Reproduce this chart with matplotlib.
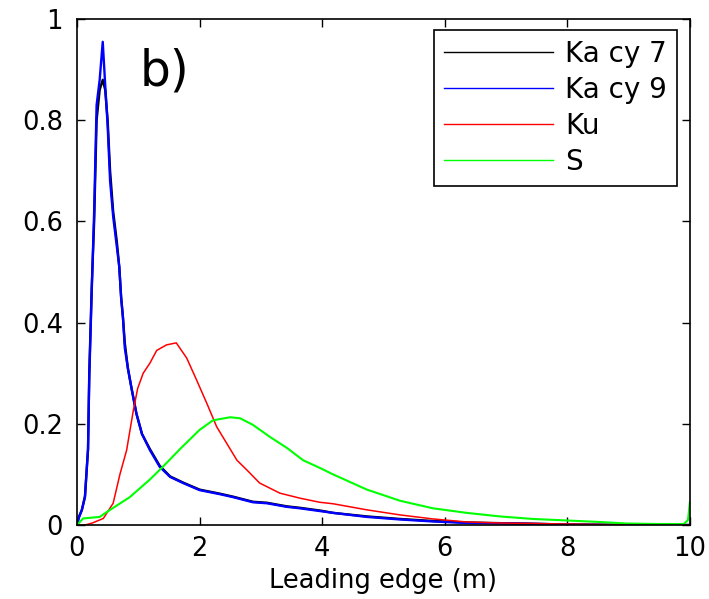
import matplotlib
matplotlib.use("Agg")
import matplotlib.pyplot as plt

plt.rcParams['font.family'] = ['DejaVu Sans']

# Ka cy 7 (black) - mostly hidden under Ka cy 9
ka7_x = [0, 0.03, 0.08, 0.13, 0.18, 0.2, 0.24, 0.28, 0.32, 0.37, 0.42, 0.46, 0.5, 0.54, 0.59, 0.65,
         0.69, 0.72, 0.75, 0.78, 0.83, 0.89, 0.97, 1.06, 1.19, 1.35, 1.52, 1.73, 2.0, 2.33, 2.55, 2.87,
         3.1, 3.42, 3.64, 4.0, 4.18, 4.73, 5.27, 5.81, 6.36, 7.2, 7.6, 8.0, 9.0, 10.0]
ka7_y = [0, 0.016, 0.03, 0.057, 0.15, 0.3, 0.47, 0.6, 0.8, 0.86, 0.88, 0.86, 0.8, 0.7, 0.62, 0.56,
         0.51, 0.45, 0.41, 0.36, 0.31, 0.27, 0.22, 0.18, 0.15, 0.117, 0.096, 0.084, 0.07, 0.062, 0.056, 0.046,
         0.044, 0.037, 0.034, 0.028, 0.024, 0.017, 0.012, 0.008, 0.005, 0.003, 0.002, 0.001, 0, 0]

# Ka cy 9 (blue)
ka9_x = [0, 0.03, 0.08, 0.13, 0.18, 0.2, 0.24, 0.28, 0.32, 0.37, 0.42, 0.46, 0.5, 0.54, 0.59, 0.65,
         0.69, 0.72, 0.75, 0.78, 0.83, 0.89, 0.97, 1.06, 1.19, 1.35, 1.52, 1.73, 2.0, 2.33, 2.55, 2.87,
         3.1, 3.42, 3.64, 4.0, 4.18, 4.73, 5.27, 5.81, 6.36, 7.2, 7.6, 8.0, 9.0, 10.0]
ka9_y = [0, 0.014, 0.03, 0.055, 0.15, 0.29, 0.46, 0.62, 0.83, 0.88, 0.955, 0.87, 0.79, 0.68, 0.61, 0.55,
         0.51, 0.45, 0.41, 0.35, 0.31, 0.27, 0.22, 0.18, 0.148, 0.115, 0.095, 0.083, 0.069, 0.061, 0.055, 0.045,
         0.043, 0.036, 0.033, 0.027, 0.024, 0.016, 0.011, 0.007, 0.004, 0.003, 0.002, 0.001, 0, 0]

# Ku (red)
ku_x = [0, 0.13, 0.25, 0.43, 0.59, 0.70, 0.81, 0.92, 0.99, 1.08, 1.19, 1.30, 1.46, 1.62, 1.79, 1.95,
        2.12, 2.28, 2.44, 2.61, 2.77, 2.98, 3.31, 3.64, 3.96, 4.18, 4.73, 5.27, 5.81, 6.36, 6.9, 8.0,
        8.6, 9.0, 10.0]
ku_y = [0, 0, 0.004, 0.013, 0.043, 0.10, 0.148, 0.227, 0.27, 0.30, 0.32, 0.345, 0.356, 0.36, 0.33, 0.287,
        0.24, 0.194, 0.162, 0.128, 0.109, 0.083, 0.063, 0.053, 0.045, 0.042, 0.03, 0.02, 0.012, 0.006, 0.004, 0.002,
        0.001, 0, 0]

# S (green)
s_x = [0, 0.1, 0.37, 0.54, 0.86, 1.19, 1.40, 1.68, 2.0, 2.22, 2.5, 2.66, 2.87, 3.15, 3.43, 3.69,
       3.96, 4.18, 4.73, 5.27, 5.81, 6.36, 6.9, 7.44, 7.99, 8.53, 8.97, 9.5, 9.9, 9.97, 10.0]
s_y = [0, 0.013, 0.016, 0.03, 0.055, 0.09, 0.115, 0.15, 0.188, 0.207, 0.213, 0.211, 0.198, 0.174, 0.152, 0.128,
       0.113, 0.1, 0.07, 0.048, 0.033, 0.024, 0.017, 0.012, 0.009, 0.006, 0.003, 0.002, 0.002, 0.01, 0.045]

x_ticks = [0, 2, 4, 6, 8, 10]
y_ticks = [0, 0.2, 0.4, 0.6, 0.8, 1]
y_tick_labels = ["0", "0.2", "0.4", "0.6", "0.8", "1"]


def main():
	fig = plt.figure(figsize=(7.09, 5.99), dpi=100)
	ax = fig.add_axes([0.1086, 0.1235, 0.8644, 0.8447])

	ax.plot(ka7_x, ka7_y, color='k', lw=1.7, label='Ka cy 7')
	ax.plot(ka9_x, ka9_y, color='#0000ff', lw=1.7, label='Ka cy 9')
	ax.plot(ku_x, ku_y, color='#ff0000', lw=1.1, label='Ku')
	ax.plot(s_x, s_y, color='#00ff00', lw=1.5, label='S')

	ax.set_xlim(0, 10)
	ax.set_ylim(0, 1)
	ax.set_xticks(x_ticks)
	ax.set_yticks(y_ticks)
	ax.set_yticklabels(y_tick_labels)
	ax.tick_params(direction='in', length=6, width=1, top=True, right=True, labelsize=18.5)
	ax.tick_params(axis='x', pad=8)
	ax.tick_params(axis='y', pad=10)
	for s in ax.spines.values():
		s.set_linewidth(1.2)
	ax.set_xlabel("Leading edge (m)", fontsize=18.5, labelpad=4)

	# panel tag
	ax.text(0.103, 0.897, "b)", transform=ax.transAxes, fontsize=35, va='center', ha='left')

	leg = ax.legend(loc='upper right', bbox_to_anchor=(0.979, 0.978), fontsize=20,
		handlelength=3.9, labelspacing=0.28, fancybox=False, framealpha=1,
		edgecolor='k', borderpad=0.36, handletextpad=0.45, borderaxespad=0)
	leg.get_frame().set_linewidth(1.2)
	for line in leg.get_lines():
		line.set_linewidth(1.0)

	fig.savefig("out.png", dpi=100)


if __name__ == '__main__':
	main()
